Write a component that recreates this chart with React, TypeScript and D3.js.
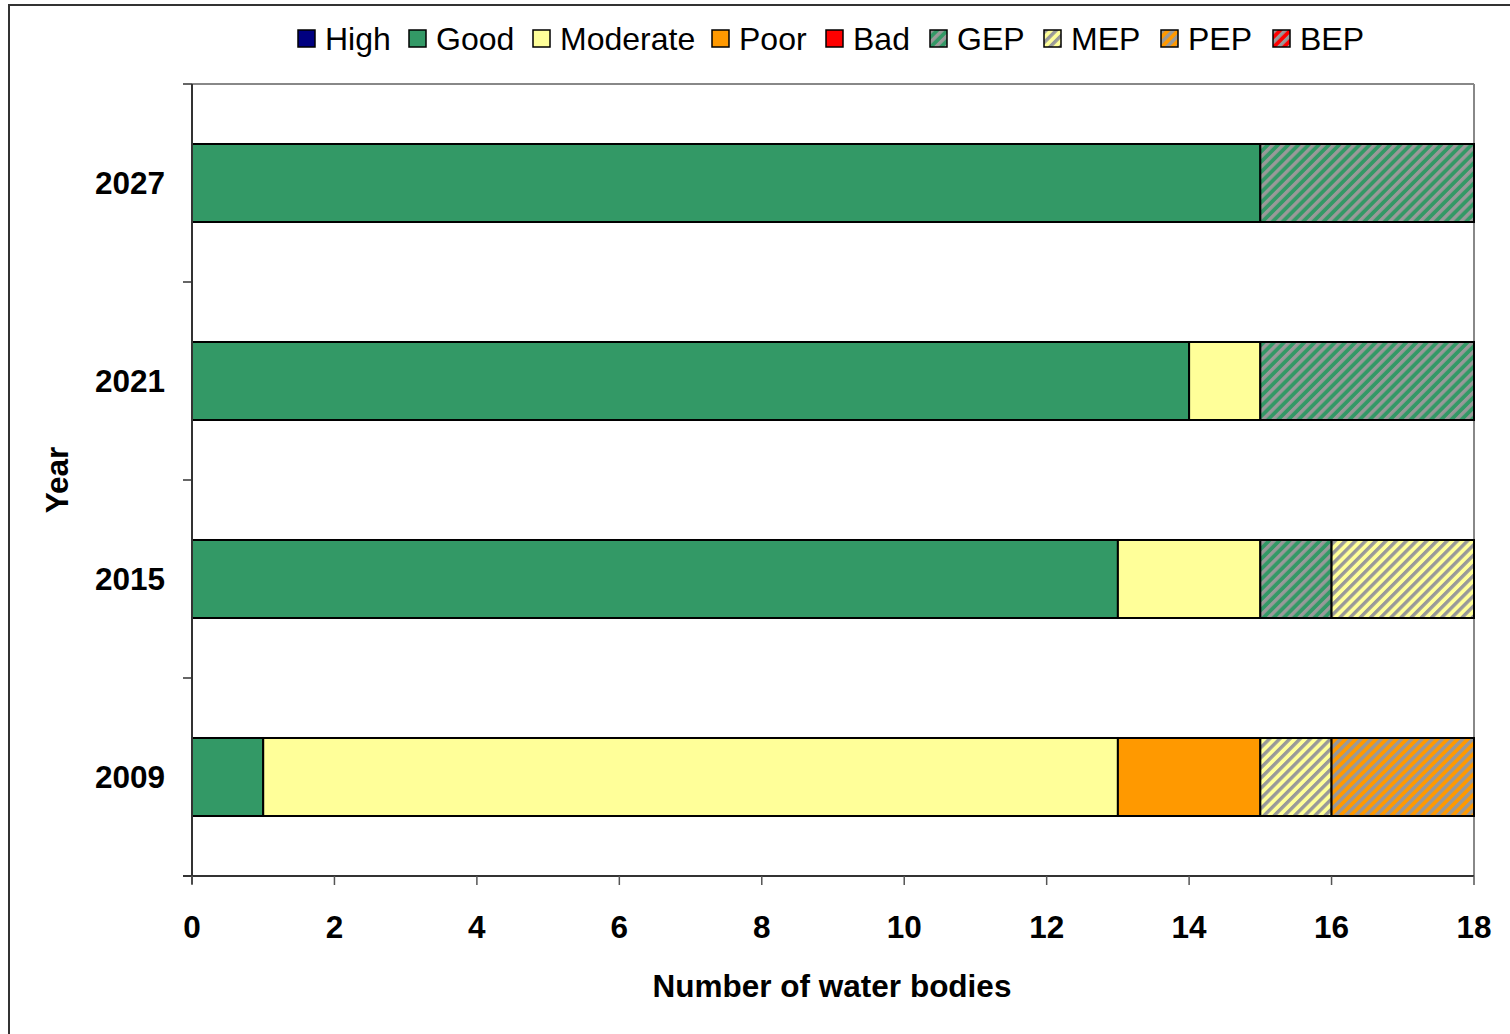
import React from 'react'
import * as d3 from 'd3'

// categories, bottom to top as drawn
const years = ['2009', '2015', '2021', '2027']
const statusKeys = ['High', 'Good', 'Moderate', 'Poor', 'Bad', 'GEP', 'MEP', 'PEP', 'BEP']
const statusColors = ['#000080', '#339966', '#FFFF99', '#FF9900', '#FF0000', '#339966', '#FFFF99', '#FF9900', '#FF0000']
const hatched = [false, false, false, false, false, true, true, true, true]

// values per year, same order as statusKeys
const high = [0, 0, 0, 0]
const good = [1, 13, 14, 15]
const moderate = [12, 2, 1, 0]
const poor = [2, 0, 0, 0]
const bad = [0, 0, 0, 0]
const gep = [0, 1, 3, 3]
const mep = [1, 2, 0, 0]
const pep = [2, 0, 0, 0]
const bep = [0, 0, 0, 0]

const xTicks = [0, 2, 4, 6, 8, 10, 12, 14, 16, 18]

const W = 1510
const H = 1034
const margin = { left: 192, right: 36, top: 84, bottom: 158 }
const FONT = 'Liberation Sans, Arial, sans-serif'

const App: React.FC = () => {
    const series = [high, good, moderate, poor, bad, gep, mep, pep, bep]
    const rows = years.map((y, i) => {
        const r: any = { year: y }
        statusKeys.forEach((k, j) => (r[k] = series[j][i]))
        return r
    })
    const stacked = d3.stack().keys(statusKeys)(rows)

    const x = d3.scaleLinear().domain([0, 18]).range([margin.left, W - margin.right])
    const yOrder = [...years].reverse() // top first
    const y = d3
        .scaleBand()
        .domain(yOrder)
        .range([margin.top, H - margin.bottom])
        .paddingInner(0.606)
        .paddingOuter(0.303)
    const step = y.step()
    const plotTop = margin.top
    const plotBottom = H - margin.bottom

    // legend layout
    const legendX = [298, 409, 533, 712, 826, 930, 1044, 1161, 1273]

    return (
        <div style={{ position: 'absolute', left: 0, top: 0 }}>
            <svg width={W} height={H} style={{ display: 'block', fontFamily: FONT }}>
                <defs>
                    {statusKeys.map((k, i) =>
                        hatched[i] ? (
                            <pattern
                                key={k}
                                id={'hatch-' + k}
                                patternUnits="userSpaceOnUse"
                                width={7.2}
                                height={7.2}
                                patternTransform="rotate(45)"
                            >
                                <rect width={7.2} height={7.2} fill={statusColors[i]} />
                                <rect width={3.4} height={7.2} fill="#999999" />
                            </pattern>
                        ) : null
                    )}
                </defs>
                <rect x={0} y={0} width={W} height={H} fill="#fff" />
                {/* outer chart frame */}
                <rect x={9} y={5} width={W + 20} height={H + 20} fill="none" stroke="#333" strokeWidth={2} />

                {/* plot area border */}
                <line x1={margin.left} x2={W - margin.right} y1={plotTop} y2={plotTop} stroke="#888" strokeWidth={2} />
                <line x1={W - margin.right} x2={W - margin.right} y1={plotTop} y2={plotBottom} stroke="#888" strokeWidth={2} />

                {/* bars */}
                {stacked.map((s, si) => (
                    <g key={s.key}>
                        {s.map((d, i) =>
                            d[1] - d[0] > 0 ? (
                                <rect
                                    key={rows[i].year}
                                    x={x(d[0])}
                                    y={y(rows[i].year)}
                                    width={x(d[1]) - x(d[0])}
                                    height={y.bandwidth()}
                                    fill={hatched[si] ? `url(#hatch-${s.key})` : statusColors[si]}
                                    stroke="#000"
                                    strokeWidth={2}
                                />
                            ) : null
                        )}
                    </g>
                ))}

                {/* y axis */}
                <line x1={margin.left} x2={margin.left} y1={plotTop} y2={plotBottom + 8} stroke="#333" strokeWidth={2} />
                {d3.range(years.length + 1).map((i) => (
                    <line
                        key={i}
                        x1={margin.left - 9}
                        x2={margin.left}
                        y1={plotTop + i * step}
                        y2={plotTop + i * step}
                        stroke="#333"
                        strokeWidth={1.5}
                    />
                ))}
                {years.map((yr) => (
                    <text
                        key={yr}
                        x={165}
                        y={(y(yr) as number) + y.bandwidth() / 2}
                        dy="0.36em"
                        textAnchor="end"
                        fontSize={31.5}
                        fontWeight="bold"
                    >
                        {yr}
                    </text>
                ))}

                {/* x axis */}
                <line x1={margin.left - 9} x2={W - margin.right} y1={plotBottom} y2={plotBottom} stroke="#333" strokeWidth={2} />
                {xTicks.map((t) => (
                    <g key={t}>
                        <line x1={x(t)} x2={x(t)} y1={plotBottom} y2={plotBottom + 9} stroke="#555" strokeWidth={1.5} />
                        <text x={x(t)} y={938} textAnchor="middle" fontSize={31.5} fontWeight="bold">
                            {t}
                        </text>
                    </g>
                ))}

                {/* axis titles */}
                <text x={832} y={997} textAnchor="middle" fontSize={31.5} fontWeight="bold">
                    Number of water bodies
                </text>
                <text
                    transform={`translate(68,${(plotTop + plotBottom) / 2}) rotate(-90)`}
                    textAnchor="middle"
                    fontSize={31.5}
                    fontWeight="bold"
                >
                    Year
                </text>

                {/* legend */}
                {statusKeys.map((k, i) => (
                    <g key={k} transform={`translate(${legendX[i]},30)`}>
                        <rect
                            width={17}
                            height={17}
                            fill={hatched[i] ? `url(#hatch-${k})` : statusColors[i]}
                            stroke="#000"
                            strokeWidth={1.5}
                        />
                        <text x={27} y={8.5} dy="0.36em" fontSize={32}>
                            {k}
                        </text>
                    </g>
                ))}
            </svg>
        </div>
    )
}

export default App
